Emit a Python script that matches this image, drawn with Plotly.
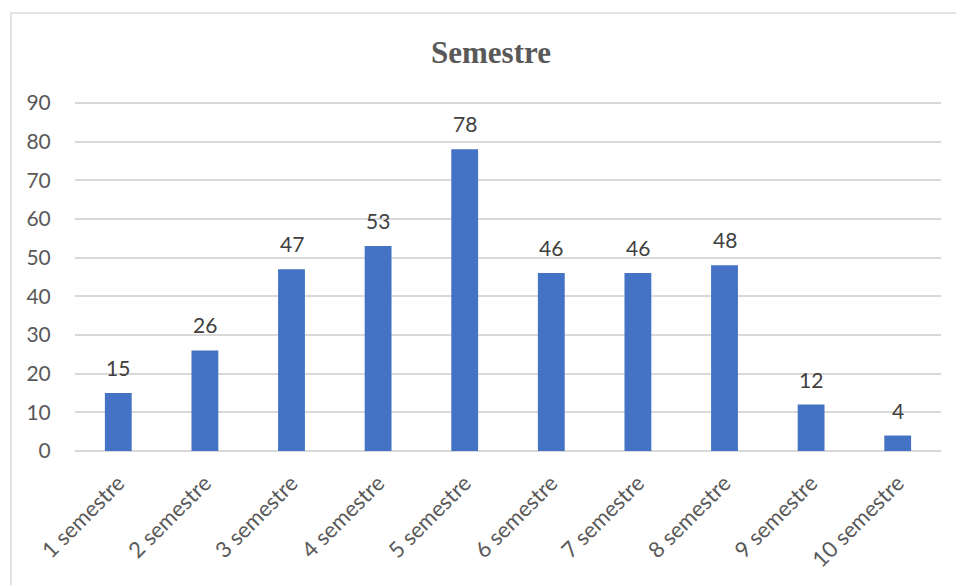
import plotly.graph_objects as go

categories = ["1 semestre", "2 semestre", "3 semestre", "4 semestre", "5 semestre",
              "6 semestre", "7 semestre", "8 semestre", "9 semestre", "10 semestre"]
values = [15, 26, 47, 53, 78, 46, 46, 48, 12, 4]
y_ticks = [0, 10, 20, 30, 40, 50, 60, 70, 80, 90]

W, H = 956, 585
ml, mr, mt, mb = 75, 15, 99, 134
FONT = "Lato, Carlito, sans-serif"

fig = go.Figure(go.Bar(
    x=categories, y=values,
    marker=dict(color="#4472C4", line=dict(width=0)),
    hoverinfo="skip",
))

for c, v in zip(categories, values):
    fig.add_annotation(x=c, y=v, text=str(v), showarrow=False, yanchor="bottom", yshift=11,
                       font=dict(family=FONT, size=21, color="#404040"))

fig.update_layout(
    width=W, height=H,
    margin=dict(l=ml, r=mr, t=mt, b=mb),
    paper_bgcolor="white", plot_bgcolor="white",
    bargap=0.69,
    showlegend=False,
    title=dict(text="<b>Semestre</b>", x=491 / W, xref="container", xanchor="center",
               y=1 - 52 / H, yref="container", yanchor="middle",
               font=dict(family="Liberation Serif, Times New Roman, serif", size=31, color="#595959")),
    xaxis=dict(tickangle=-45, showgrid=False, showline=False, ticks="",
               ticklabelstandoff=14,
               tickfont=dict(family=FONT, size=22, color="#595959")),
    yaxis=dict(range=[0, 91], tickvals=y_ticks, showgrid=True, gridcolor="#D9D9D9", gridwidth=1.5,
               zeroline=True, zerolinecolor="#D9D9D9", zerolinewidth=1.5, showline=False,
               ticks="outside", ticklen=19, tickcolor="rgba(0,0,0,0)",
               tickfont=dict(family=FONT, size=21, color="#595959")),
    shapes=[dict(type="rect", xref="paper", yref="paper",
                 x0=(11 - ml) / (W - ml - mr), x1=(970 - ml) / (W - ml - mr),
                 y0=-(600 - (H - mb)) / (H - mt - mb), y1=1 + (mt - 13) / (H - mt - mb),
                 line=dict(color="#D9D9D9", width=1.5), fillcolor="rgba(0,0,0,0)", layer="below")],
)

fig.write_html("out.html", config={"displayModeBar": False},
               post_script="document.body.style.margin='0';document.body.style.padding='0';")
